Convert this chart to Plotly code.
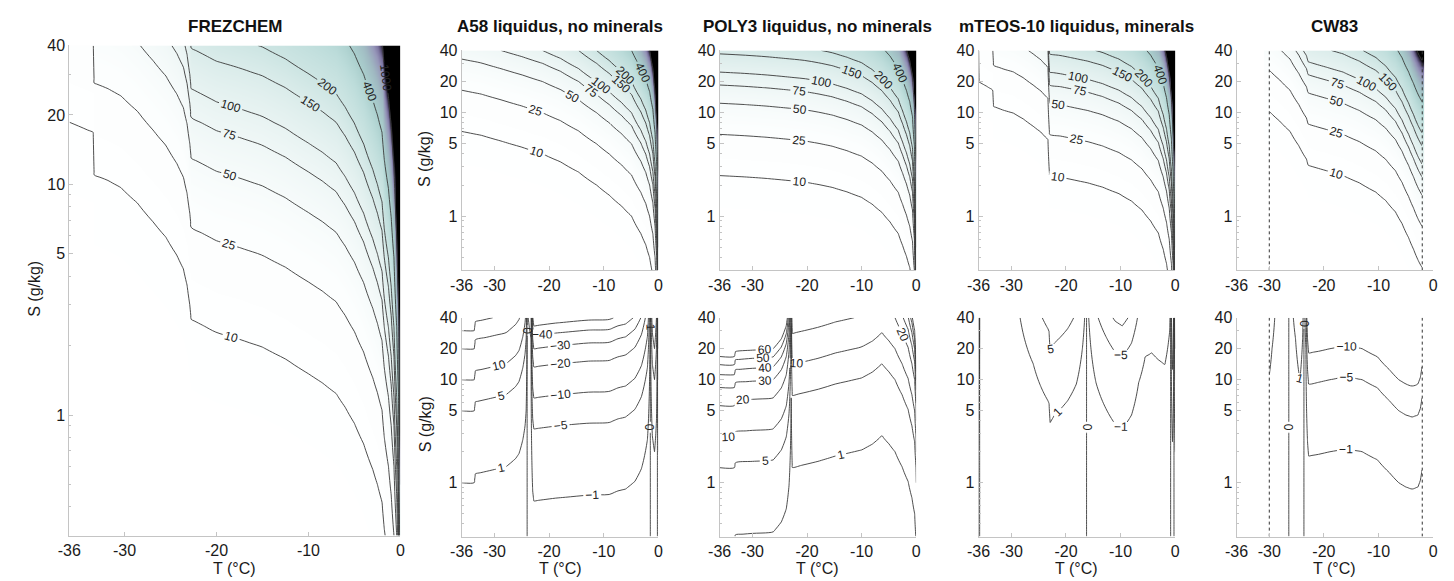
import numpy as np
import plotly.graph_objects as go

W, H = 1454, 581
FONT = "Liberation Sans, Arial, sans-serif"

# ---------------- values ----------------
# Top panels: effective brine salinity Sb (g/kg) at temperature nodes (deg C);
# plotted quantity = 1000 * S / Sb
frez_T = [-36, -35, -34, -33.4, -33.3, -31.8, -30.4, -28.6, -26.9, -25.5, -24.3, -23.6, -23.2, -22.9,
          -22.75, -21.5, -20, -17.5, -15, -12.5, -10, -8.5, -7, -6, -5, -4, -3, -2.5, -2, -1.75,
          -1.3, -1, -0.7, -0.4, -0.2, 0]
frez_Sb = [1860, 1790, 1720, 1680, 1100, 1040, 968, 830, 688, 590, 492, 430, 366, 300,
           260, 245, 228, 213, 197, 175, 151, 138, 124, 108, 92, 75, 58, 50, 42, 32,
           24, 18, 12, 6, 3, 0.5]

a58_T = [-36, -32.4, -28.8, -25, -21.2, -17.9, -14.6, -11.3, -9, -6.7, -4.9, -3.2, -2.3, -1.6,
         -1.0, -0.6, -0.3, -0.1, 0]
a58_Sb = [660, 605, 533, 465, 400, 335, 267, 200, 160, 125, 100, 68, 53, 40, 27, 16, 8, 3, 0.5]

poly3_T = [-36, -31.5, -27.5, -24, -20.3, -17.8, -15.4, -12.7, -10, -8.1, -6.3, -4.8, -3.3, -2.5,
           -1.8, -1.2, -0.7, -0.35, -0.1, 0]
poly3_Sb = [247, 240, 232, 223, 213, 202, 190, 172, 152, 131, 109, 88, 68, 52, 41, 32, 23, 12, 4, 0.5]

mteos_T = [-36, -35.9, -34.5, -33.4, -33.25, -31.5, -29.6, -27.8, -26, -24.6, -23.3, -23.0, -21,
           -19.4, -16, -13.3, -10.3, -8, -6.1, -4.5, -3.1, -2.2, -1.6, -1.1, -0.7, -0.4, -0.2, 0]
mteos_Sb = [5000, 1980, 1800, 1650, 1150, 1060, 990, 870, 740, 650, 550, 247, 238,
            229, 210, 191, 165, 140, 115, 90, 69, 48, 35, 24, 14, 7, 3.5, 0.5]

cw83_T = [-30, -28.1, -26.2, -24.6, -23.2, -22.9, -22.6, -19.5, -16.5, -13.5, -10.5, -8.7, -6.9,
          -5.7, -4.5, -3.6, -2.7, -2.05]
cw83_Sb = [1030, 830, 660, 480, 356, 312, 307, 275, 247, 210, 171, 142, 110, 85, 62, 48, 37, 32]

# Bottom panels: difference per unit salinity h(T); plotted quantity = S * h
a58d_T = [-36, -33.7, -33.5, -30.3, -27.9, -26.1, -25.5, -24.8, -24.4, -24.2, -24.0, -23.3, -23.0,
          -22.8, -21.9, -18.8, -12.8, -9.0, -7.4, -6.0, -4.3, -3.1, -2.0, -1.4, -1.1, -0.7, -0.35,
          -0.1, 0]
a58d_h = [1.0, 1.0, 0.82, 0.75, 0.70, 0.58, 0.52, 0.38, 0.28, 0.2, -0.02, -0.04, -1.2,
          -1.5, -1.48, -1.41, -1.32, -1.3, -1.2, -1.15, -0.97, -0.73, -0.38, 0.05, 0.35, 0.5, 0.25,
          -0.1, -0.5]

poly3d_T = [-36, -33.3, -33.1, -30, -27, -26.2, -24.7, -23.8, -23.3, -23.05, -22.9, -22.7, -18,
            -14.8, -10, -8, -6.3, -5, -3.9, -2.6, -1.5, -0.8, -0.3, -0.05, 0]
poly3d_h = [3.57, 3.57, 3.2, 3.1, 3.05, 3.0, 2.4, 1.79, 1.07, 0.5, 0.15, 0.71, 0.62,
            0.55, 0.48, 0.42, 0.35, 0.42, 0.5, 0.7, 0.97, 1.4, 2.0, 3.6, 5.0]

mteosd_T = [-36, -35.8, -34, -30, -28.4, -26, -24.5, -23.3, -23.1, -22.9, -22.1, -19.7, -18.1,
            -17, -16.5, -16.1, -15.7, -14.5, -12.7, -11, -9.7, -8, -6.7, -5.5, -4.3, -3.1, -1.9,
            -1.0, -0.75, -0.5, -0.25, 0]
mteosd_h = [-0.5, 0.004, 0.008, 0.015, 0.025, 0.07, 0.12, 0.16, 0.17, 0.26, 0.22, 0.16, 0.11,
            0.05, 0.02, -0.01, -0.033, -0.107, -0.19, -0.27, -0.3, -0.22, -0.107, -0.06, -0.055,
            -0.064, -0.071, -0.033, 0.02, 0.4, 0.05, -0.5]

cw83d_T = [-30, -29.5, -29, -28.5, -27.5, -26.6, -26.0, -25.2, -24.4, -23.9, -23.6, -23.3, -23.0,
           -22.8, -21, -18.9, -15.9, -13, -10.2, -8, -6.3, -5, -3.85, -2.8, -2.35, -2.05]
cw83d_h = [-0.09, -0.05, -0.025, -0.015, -0.008, -0.004, 0.01, 0.04, 0.1, 0.04, -0.01, -0.05, -0.4,
           -0.55, -0.53, -0.5, -0.47, -0.5, -0.6, -0.8, -1.0, -1.1, -1.15, -1.1, -0.95, -0.75]

top_levels = [10, 25, 50, 75, 100, 150, 200, 400, 1000]
a58d_levels = [-50, -40, -30, -20, -10, -5, -1, 0, 1, 5, 10, 20, 30]
poly3d_levels = [1, 5, 10, 20, 30, 40, 50, 60]
mteosd_levels = [-10, -5, -1, 0, 1, 5]
cw83d_levels = [-10, -5, -1, 0, 1, 5]
cw83_limits = [-30, -2]

x_ticks = [-36, -30, -20, -10, 0]
y_ticks = [1, 5, 10, 20, 40]
y_minor = [0.3, 0.4, 0.5, 0.6, 0.7, 0.8, 0.9, 2, 3, 4, 6, 7, 8, 9, 30]
S_range = [0.3, 40]
titles = ["FREZCHEM", "A58 liquidus, no minerals", "POLY3 liquidus, no minerals",
          "mTEOS-10 liquidus, minerals", "CW83"]

# ---------------- grids for the library ----------------
S_grid = np.geomspace(S_range[0], S_range[1], 90)


def top_field(Sb):
    return 1000.0 * S_grid[:, None] / np.asarray(Sb, float)[None, :]


def diff_field(h):
    return S_grid[:, None] * np.asarray(h, float)[None, :]


def fx(xp):  # pixel -> paper fraction
    return xp / W


def fy(yp):
    return 1 - yp / H


colorscale = [
    [0.0, '#ffffff'], [0.03, '#fcfefe'], [0.1, '#e8f3f2'], [0.2, '#cde5e3'],
    [0.3, '#bcdcda'], [0.4, '#aacfcd'], [0.55, '#a0b9c2'], [0.7, '#9696b9'],
    [0.8, '#7c74a0'], [0.88, '#4e4668'], [0.95, '#1c1826'], [1.0, '#000000'],
]
LINE = '#3a3a3a'
line_scale = [[0, LINE], [1, LINE]]

FX = (58, 393)
cols = [(455, 654), (716, 915), (978, 1177), (1239, 1438)]
TOP = (43, 266)
BOT = (314, 536)

panels = [
    dict(T=frez_T, Z=top_field(frez_Sb), levels=top_levels, heat=True, px=FX, py=(38, 535)),
    dict(T=a58_T, Z=top_field(a58_Sb), levels=top_levels, heat=True, px=cols[0], py=TOP),
    dict(T=a58d_T, Z=diff_field(a58d_h), levels=a58d_levels, heat=False, px=cols[0], py=BOT),
    dict(T=poly3_T, Z=top_field(poly3_Sb), levels=top_levels, heat=True, px=cols[1], py=TOP),
    dict(T=poly3d_T, Z=diff_field(poly3d_h), levels=poly3d_levels, heat=False, px=cols[1], py=BOT),
    dict(T=mteos_T, Z=top_field(mteos_Sb), levels=top_levels, heat=True, px=cols[2], py=TOP),
    dict(T=mteosd_T, Z=diff_field(mteosd_h), levels=mteosd_levels, heat=False, px=cols[2], py=BOT),
    dict(T=cw83_T, Z=top_field(cw83_Sb), levels=top_levels, heat=True, px=cols[3], py=TOP, cw=True),
    dict(T=cw83d_T, Z=diff_field(cw83d_h), levels=cw83d_levels, heat=False, px=cols[3], py=BOT, cw=True),
]

fig = go.Figure()
layout = dict(
    width=W, height=H, margin=dict(l=0, r=0, t=0, b=0),
    paper_bgcolor='white', plot_bgcolor='white', showlegend=False,
    font=dict(family=FONT, size=16, color='#1a1a1a'),
)

AXC = '#c4c4c4'
for i, p in enumerate(panels, start=1):
    sfx = '' if i == 1 else str(i)
    xa, ya = 'x' + sfx, 'y' + sfx
    if p['heat']:
        fig.add_trace(go.Heatmap(
            x=p['T'], y=S_grid, z=np.minimum(p['Z'], 5000), zsmooth='best',
            colorscale=colorscale, zmin=0, zmax=1000, showscale=False,
            hoverinfo='skip', xaxis=xa, yaxis=ya))
    for L in p['levels']:
        fig.add_trace(go.Contour(
            x=p['T'], y=S_grid, z=p['Z'], autocontour=False,
            contours=dict(start=L, end=L, size=1, coloring='lines', showlabels=True,
                          labelfont=dict(family=FONT, size=12, color='#222222')),
            colorscale=line_scale,
            line=dict(width=0.9, smoothing=1.0),
            showscale=False, hoverinfo='skip', xaxis=xa, yaxis=ya))
    if p.get('cw'):
        for v in cw83_limits:
            fig.add_trace(go.Scatter(
                x=[v, v], y=S_range, mode='lines',
                line=dict(color='#333333', width=1, dash='dot'),
                hoverinfo='skip', xaxis=xa, yaxis=ya))
    x0, x1 = p['px']
    y0, y1 = p['py']
    layout['xaxis' + sfx] = dict(
        domain=[fx(x0), fx(x1)], anchor=ya, range=[-36, 0],
        tickmode='array', tickvals=x_ticks, ticktext=[str(v) for v in x_ticks],
        showline=True, linecolor=AXC, linewidth=1, ticks='inside', ticklen=4,
        tickcolor=AXC, showgrid=False, zeroline=False,
        tickfont=dict(family=FONT, size=16, color='#1a1a1a'), fixedrange=True)
    layout['yaxis' + sfx] = dict(
        domain=[fy(y1), fy(y0)], anchor=xa, type='log',
        range=[np.log10(S_range[0]), np.log10(S_range[1])],
        tickmode='array', tickvals=y_ticks, ticktext=[str(v) for v in y_ticks],
        showline=True, linecolor=AXC, linewidth=1, ticks='inside', ticklen=4,
        tickcolor=AXC, showgrid=False, zeroline=False,
        minor=dict(tickvals=y_minor, ticks='inside', ticklen=2, tickcolor=AXC, showgrid=False),
        tickfont=dict(family=FONT, size=16, color='#1a1a1a'), fixedrange=True)

ann = []
title_x = [(FX[0] + FX[1]) / 2] + [(a + b) / 2 for a, b in cols]
for t, xc in zip(titles, title_x):
    ann.append(dict(text='<b>' + t + '</b>', x=fx(xc), y=fy(19), xref='paper', yref='paper',
                    showarrow=False, xanchor='center', yanchor='middle',
                    font=dict(family=FONT, size=17, color='#111111')))
for (xp, yp) in [(22, 285), (418, 153), (418, 422)]:
    ann.append(dict(text='S (g/kg)', x=fx(xp), y=fy(yp), xref='paper', yref='paper',
                    showarrow=False, textangle=-90, xanchor='center', yanchor='middle',
                    font=dict(family=FONT, size=16, color='#1a1a1a')))
for xp in title_x:
    ann.append(dict(text='T (°C)', x=fx(xp), y=fy(568), xref='paper', yref='paper',
                    showarrow=False, xanchor='center', yanchor='middle',
                    font=dict(family=FONT, size=16, color='#1a1a1a')))
layout['annotations'] = ann
fig.update_layout(**layout)

fig.write_html("out.html", include_plotlyjs=True, config={'displayModeBar': False},
               post_script="document.body.style.margin='0';document.body.style.overflow='hidden';")
